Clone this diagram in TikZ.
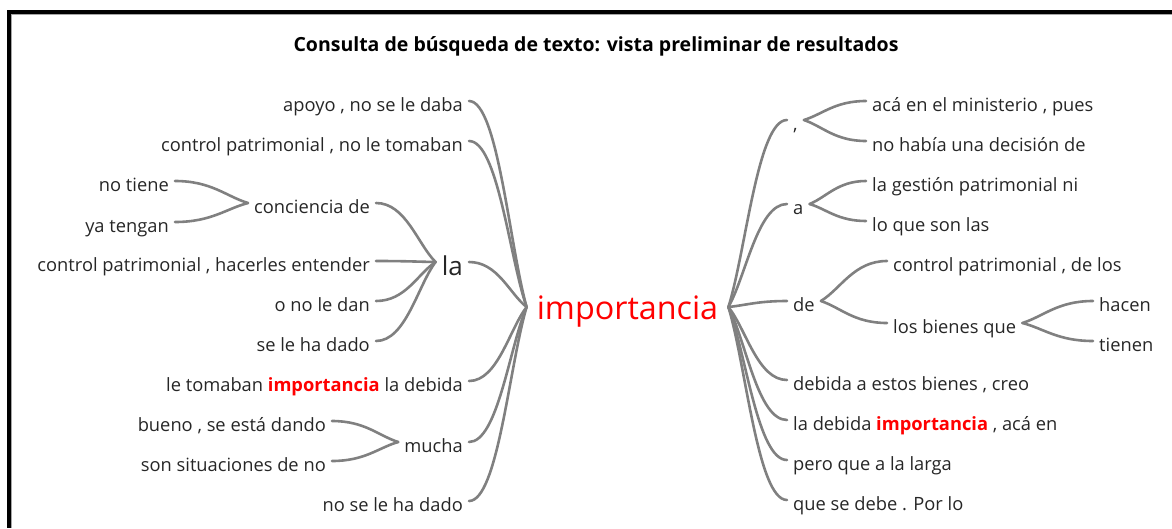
\documentclass[tikz,border=0pt]{standalone}
\usepackage{fontspec}
\setmainfont{Open Sans}
\usepackage{tikz}
\usetikzlibrary{calc}

\definecolor{branchgray}{RGB}{128,128,128}
\definecolor{wordcol}{RGB}{38,38,38}

\begin{document}
\begin{tikzpicture}[x=1pt,y=-1pt,
  word/.style={font=\fontsize{18.3}{21}\selectfont,text=wordcol,inner xsep=6pt,inner ysep=0pt,text height=20pt,text depth=0pt},
  lw/.style={word,anchor=east},
  rw/.style={word,anchor=west},
  branch/.style={draw=branchgray,line width=2.6pt,line cap=round,
    to path={.. controls ($(\tikztostart)!.5!(\tikztostart -| \tikztotarget)$) and ($(\tikztotarget)!.3!(\tikztostart)$) .. (\tikztotarget)}}]
\useasboundingbox (0,0) rectangle (1172,528);

% frame
\fill[black] (7,10) rectangle (1172,14);
\fill[black] (7,10) rectangle (11,528);
\draw[gray!70,line width=1pt] (11.5,528) -- (11.5,14.5) -- (1172,14.5);

\node[font=\bfseries\fontsize{19.5}{23}\selectfont] (title) at (596,46) {Consulta de búsqueda de texto: vista preliminar de resultados};

\node[font=\fontsize{32.3}{38}\selectfont,text=red,inner xsep=10pt,inner ysep=0pt,text height=25pt,text depth=0pt] (imp) at (627.5,307) {importancia};

% left side
\node[lw] (apoyo) at (469,101) {apoyo , no se le daba};
\node[lw] (tomaban) at (469,141) {control patrimonial , no le tomaban};
\node[lw] (notiene) at (175,181) {no tiene};
\node[lw] (conciencia) at (376,203) {conciencia de};
\node[lw] (yatengan) at (175,222) {ya tengan};
\node[lw] (entender) at (376,261) {control patrimonial , hacerles entender};
\node[lw,font=\fontsize{26}{30}\selectfont,text height=27pt] (la) at (469,262) {la};
\node[lw] (nolidan) at (376,301) {o no le dan};
\node[lw] (sehadado) at (376,341) {se le ha dado};
\node[lw] (debida) at (469,381) {le tomaban {\bfseries\color{red}importancia} la debida};
\node[lw] (bueno) at (332,421) {bueno , se está dando};
\node[lw] (mucha) at (469,442) {mucha};
\node[lw] (situaciones) at (332,461) {son situaciones de no};
\node[lw] (nosehadado) at (469,501) {no se le ha dado};

% right side
\node[rw] (comma) at (787,120) {,};
\node[rw] (aca) at (866,101) {acá en el ministerio , pues};
\node[rw] (nohabia) at (866,141) {no había una decisión de};
\node[rw] (a) at (787,204) {a};
\node[rw] (gestion) at (866,181) {la gestión patrimonial ni};
\node[rw] (loque) at (866,221) {lo que son las};
\node[rw] (de) at (787,301) {de};
\node[rw] (patdelos) at (887,261) {control patrimonial , de los};
\node[rw] (bienes) at (887,323) {los bienes que};
\node[rw] (hacen) at (1093,301) {hacen};
\node[rw] (tienen) at (1093,341) {tienen};
\node[rw] (creo) at (787,380) {debida a estos bienes , creo};
\node[rw] (acaen) at (787,420) {la debida {\bfseries\color{red}importancia} , acá en};
\node[rw] (larga) at (787,460) {pero que a la larga};
\node[rw] (porlo) at (787,500) {que se debe . Por lo};

\foreach \n in {apoyo,tomaban,la,debida,mucha,nosehadado} \draw[branch] (\n.east) to (imp.west);
\foreach \n in {conciencia,entender,nolidan,sehadado} \draw[branch] (\n.east) to (la.west);
\foreach \n in {notiene,yatengan} \draw[branch] (\n.east) to (conciencia.west);
\foreach \n in {bueno,situaciones} \draw[branch] (\n.east) to (mucha.west);

\foreach \n in {comma,a,de,creo,acaen,larga,porlo} \draw[branch] (\n.west) to (imp.east);
\foreach \n in {aca,nohabia} \draw[branch] (\n.west) to (comma.east);
\foreach \n in {gestion,loque} \draw[branch] (\n.west) to (a.east);
\foreach \n in {patdelos,bienes} \draw[branch] (\n.west) to (de.east);
\foreach \n in {hacen,tienen} \draw[branch] (\n.west) to (bienes.east);
\end{tikzpicture}
\end{document}
